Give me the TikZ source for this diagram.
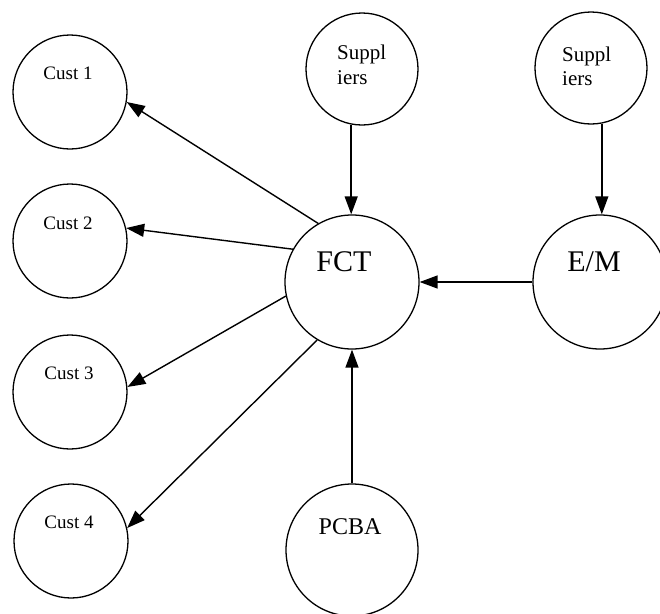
\documentclass[tikz,border=0pt]{standalone}
\usepackage{fontspec}
\setmainfont{Liberation Serif}
\usetikzlibrary{arrows.meta}
\tikzset{
  bub/.style={circle, draw=black, line width=1.3pt, inner sep=0pt, minimum size=#1},
  arr/.style={line width=1.4pt, -{Triangle[length=18pt, width=13pt]}},
  lbl/.style={anchor=base, inner sep=0pt, font=#1},
  lblw/.style={anchor=base west, inner sep=0pt, font=#1},
}
\begin{document}
\begin{tikzpicture}[x=1pt, y=-1pt]
\clip (0,0) rectangle (660,613);
\fill[white] (0,0) rectangle (660,613);
% circles
\node[bub=114pt] (c1) at (70,92) {};
\node[bub=114pt] (c2) at (70,241) {};
\node[bub=114pt] (c3) at (70,392) {};
\node[bub=114pt] (c4) at (71,541) {};
\node[bub=112pt] (s1) at (362,69) {};
\node[bub=112pt] (s2) at (591,68) {};
\node[bub=134pt] (fct) at (352,282) {};
\node[bub=134pt] (em) at (600,282) {};
\node[bub=132pt] (pcba) at (352,550) {};
% labels
\node[lbl=\fontsize{19}{19}\selectfont] (t1) at (68,79) {Cust 1};
\node[lbl=\fontsize{19}{19}\selectfont] (t2) at (68,229) {Cust 2};
\node[lbl=\fontsize{19}{19}\selectfont] (t3) at (69,379) {Cust 3};
\node[lbl=\fontsize{19}{19}\selectfont] (t4) at (69,528) {Cust 4};
\node[lblw=\fontsize{21}{21}\selectfont] (s1a) at (337,59) {Suppl};
\node[lblw=\fontsize{21}{21}\selectfont] (s1b) at (337,84) {iers};
\node[lblw=\fontsize{21}{21}\selectfont] (s2a) at (562,61) {Suppl};
\node[lblw=\fontsize{21}{21}\selectfont] (s2b) at (562,85) {iers};
\node[lbl=\fontsize{30}{30}\selectfont] (tf) at (344,271) {FCT};
\node[lbl=\fontsize{30}{30}\selectfont] (te) at (594,271) {E/M};
\node[lbl=\fontsize{24}{24}\selectfont] (tp) at (350,534) {PCBA};
% connectors
\draw[arr] (fct.120.4) -- (c1.-10.7);
\draw[arr] (fct.151.5) -- (c2.13.6);
\draw[arr] (fct.192.6) -- (c3.5);
\draw[arr] (fct.239.7) -- (c4.13.8);
\draw[arr] (s1.259.5) -- (s1.259.5 |- fct.north);
\draw[arr] (s2.281) -- (s2.281 |- em.north);
\draw[arr] (em.west) -- (fct.east);
\draw[arr] (pcba.north) -- (fct.south);
\end{tikzpicture}
\end{document}
